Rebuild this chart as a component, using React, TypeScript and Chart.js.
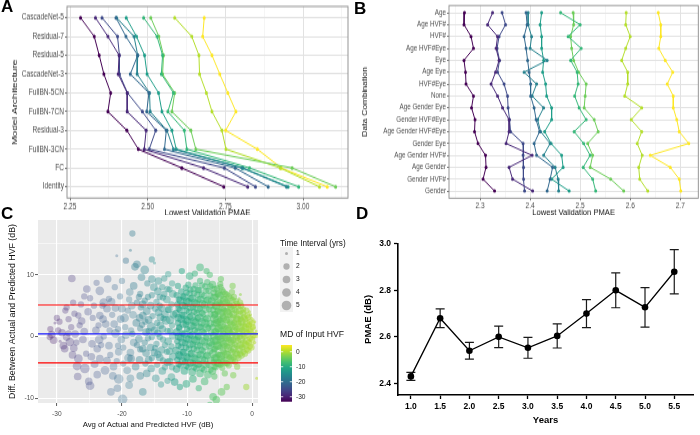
import React, { useEffect, useRef } from "react";
import { Chart, registerables } from "chart.js";

Chart.register(...registerables);

const FONT = "'Liberation Sans', Arial, Helvetica, sans-serif";

// ---------------- Panel A : model architecture ----------------
const archNames = ["CascadeNet-5", "Residual-7", "Residual-5", "CascadeNet-3", "FullBN-5CN", "FullBN-7CN", "Residual-3", "FullBN-3CN", "FC", "Identity"];
const archPMAE: number[][] = [
  [2.284, 2.328, 2.344, 2.359, 2.381, 2.372, 2.433, 2.470, 2.610, 2.745],
  [2.332, 2.372, 2.408, 2.405, 2.434, 2.434, 2.495, 2.489, 2.680, 2.822],
  [2.353, 2.403, 2.409, 2.409, 2.435, 2.483, 2.526, 2.505, 2.747, 2.847],
  [2.398, 2.430, 2.468, 2.444, 2.504, 2.497, 2.560, 2.554, 2.782, 2.888],
  [2.400, 2.456, 2.468, 2.466, 2.506, 2.508, 2.562, 2.583, 2.804, 2.947],
  [2.431, 2.464, 2.490, 2.498, 2.535, 2.546, 2.578, 2.592, 2.807, 2.952],
  [2.487, 2.530, 2.548, 2.544, 2.583, 2.565, 2.618, 2.626, 2.828, 2.986],
  [2.510, 2.536, 2.551, 2.548, 2.587, 2.578, 2.639, 2.655, 2.965, 3.105],
  [2.587, 2.642, 2.665, 2.667, 2.689, 2.707, 2.739, 2.752, 2.927, 3.053],
  [2.682, 2.677, 2.707, 2.732, 2.758, 2.784, 2.751, 2.853, 2.930, 3.078],
];
const archMajor = [2.25, 2.5, 2.75, 3.0];
const archMinor = [2.375, 2.625, 2.875, 3.125];

// ---------------- Panel B : data combination ----------------
const comboNames = ["Age", "Age HVF#", "HVF#", "Age HVF#Eye", "Eye", "Age Eye", "HVF#Eye", "None", "Age Gender Eye", "Gender HVF#Eye", "Age Gender HVF#Eye", "Gender Eye", "Age Gender HVF#", "Age Gender", "Gender HVF#", "Gender"];
const comboPMAE: number[][] = [
  [2.269, 2.268, 2.282, 2.287, 2.268, 2.271, 2.272, 2.287, 2.283, 2.290, 2.289, 2.296, 2.311, 2.312, 2.306, 2.329],
  [2.325, 2.315, 2.335, 2.332, 2.338, 2.331, 2.322, 2.335, 2.345, 2.358, 2.358, 2.352, 2.404, 2.358, 2.365, 2.405],
  [2.344, 2.351, 2.338, 2.334, 2.339, 2.335, 2.348, 2.355, 2.356, 2.359, 2.361, 2.386, 2.386, 2.387, 2.387, 2.389],
  [2.392, 2.394, 2.388, 2.392, 2.395, 2.398, 2.401, 2.401, 2.408, 2.412, 2.419, 2.408, 2.413, 2.445, 2.440, 2.434],
  [2.396, 2.396, 2.403, 2.400, 2.434, 2.388, 2.413, 2.404, 2.427, 2.415, 2.421, 2.440, 2.427, 2.450, 2.456, 2.457],
  [2.423, 2.420, 2.423, 2.423, 2.427, 2.425, 2.431, 2.433, 2.443, 2.443, 2.429, 2.442, 2.463, 2.466, 2.443, 2.478],
  [2.461, 2.500, 2.476, 2.502, 2.481, 2.494, 2.496, 2.489, 2.498, 2.512, 2.488, 2.507, 2.520, 2.506, 2.525, 2.531],
  [2.486, 2.487, 2.481, 2.483, 2.487, 2.497, 2.512, 2.510, 2.508, 2.528, 2.536, 2.515, 2.525, 2.520, 2.561, 2.587],
  [2.592, 2.591, 2.600, 2.591, 2.583, 2.595, 2.595, 2.589, 2.623, 2.602, 2.623, 2.614, 2.624, 2.617, 2.619, 2.635],
  [2.656, 2.661, 2.661, 2.657, 2.670, 2.685, 2.674, 2.686, 2.686, 2.693, 2.698, 2.717, 2.640, 2.680, 2.698, 2.701],
];
const comboMajor = [2.3, 2.4, 2.5, 2.6, 2.7];
const comboMinor = [2.25, 2.35, 2.45, 2.55, 2.65];

const seriesColors = ["#440154", "#482878", "#3E4A89", "#31688E", "#26828E", "#1F9E89", "#35B779", "#6DCD59", "#B4DE2C", "#FDE725"];

// ---------------- Panel C : Bland-Altman cloud [avg, diff, years] ----------------
const cloudPurple: number[][] = [
  [-31.1,-0.1,2],[-30.5,-0.6,3],[-31.0,1.2,2],[-30.3,2.2,1],[-29.2,0.6,3],[-28.7,4.2,2],[-28.5,-0.1,3],[-28.0,-0.9,4],[-27.4,-1.9,3],[-28.5,4.7,2],
  [-27.7,9.4,3],[-26.7,3.4,2],[-26.7,-3.6,4],[-26.9,-4.8,4],[-25.7,-5.2,5],[-27.8,1.5,2],[-27.2,0.4,3],[-26.5,1.8,2],[-29.8,1.0,2],[-28.8,-2.0,3],
  [-27.0,-1.0,2],[-26.0,-0.5,3],[-25.4,7.7,3],[-25.8,6.5,2],[-26.2,2.5,3],[-25.5,-2.8,2],[-29.5,-0.8,1],[-28.2,2.8,2],[-25.2,4.0,3],[-27.5,5.5,2],
  [-30.0,3.0,2],[-29.0,-1.5,3],[-28.2,0.5,2],[-27.6,-3.0,3],[-26.8,-6.5,3],[-26.3,5.2,2],[-25.8,0.8,3],[-27.3,3.7,2],[-29.6,2.4,2],[-30.8,0.3,3],
];
const cloudBlue: number[][] = [
  [-24.9,6.2,2],[-22.8,5.5,4],[-22.0,6.1,2],[-23.4,7.4,4],[-21.1,8.0,2],[-23.4,3.4,3],[-24.9,-8.0,4],[-25.1,-7.3,3],[-23.4,-3.6,3],[-21.3,-4.9,3],
  [-20.5,-6.9,5],[-19.9,-10.2,5],[-20.7,-8.4,3],[-18.9,-7.9,3],[-20.8,13.1,1],[-18.8,7.2,3],[-24.0,1.0,3],[-23.5,-0.5,4],[-22.5,2.0,3],[-22.0,-1.5,3],
  [-21.5,3.5,2],[-21.0,0.5,4],[-20.5,-2.5,3],[-20.0,4.5,3],[-19.5,1.5,2],[-19.0,-3.5,4],[-18.5,5.0,3],[-18.2,-1.0,3],[-24.5,3.0,2],[-23.8,-2.0,3],
  [-22.8,0.0,2],[-22.3,4.5,3],[-21.8,-3.0,2],[-21.2,2.0,3],[-20.3,6.5,2],[-20.1,-0.5,3],[-19.6,3.0,4],[-19.2,-5.5,3],[-18.6,1.0,2],[-18.3,3.5,3],
  [-24.2,-4.5,3],[-23.0,5.0,2],[-22.6,-5.5,4],[-20.8,-4.0,2],[-19.8,-1.8,2],[-18.9,6.0,2],[-23.6,1.8,2],[-21.6,5.6,3],[-20.6,1.2,2],[-18.7,-2.6,3],
  [-24.6,-1.2,3],[-24.3,5.0,2],[-23.8,-6.2,3],[-23.2,-1.4,2],[-22.9,2.8,3],[-22.3,-3.9,3],[-21.9,1.0,2],[-21.4,-6.4,3],[-21.0,4.6,3],[-20.6,-1.5,2],
  [-20.2,2.8,3],[-19.8,-4.4,2],[-19.4,0.2,3],[-19.1,4.2,2],[-18.7,-6.8,3],[-23.9,8.7,2],[-22.2,9.3,3],[-20.0,9.0,2],[-24.7,-3.3,3],[-21.7,-9.0,3],
];
const cloudTeal: number[][] = [
  [-12.3,-5.0,2],[-12.2,-3.3,3],[-12.4,-1.6,2],[-12.2,0.1,3],[-12.3,1.8,2],[-12.1,3.5,3],[-12.4,5.2,2],[-12.2,6.9,3],[-12.3,8.6,2],
  [-13.0,-4.2,3],[-13.1,-2.5,2],[-12.9,-0.8,3],[-13.0,0.9,2],[-13.2,2.6,4],[-12.9,4.3,2],[-13.1,6.0,3],[-13.0,7.7,2],
  [-13.8,-5.6,3],[-13.7,-3.9,2],[-13.9,-2.2,3],[-13.7,-0.5,2],[-13.8,1.2,3],[-13.6,2.9,2],[-13.9,4.6,3],[-13.7,6.3,2],[-13.8,8.0,2],
  [-14.6,-4.6,2],[-14.5,-2.9,3],[-14.7,-1.2,2],[-14.5,0.5,3],[-14.6,2.2,2],[-14.4,3.9,3],[-14.7,5.6,2],[-14.5,7.3,3],
  [-15.5,-5.2,3],[-15.4,-3.5,2],[-15.6,-1.8,3],[-15.4,-0.1,2],[-15.5,1.6,4],[-15.3,3.3,2],[-15.6,5.0,3],[-15.4,6.7,2],
  [-16.4,-4.4,2],[-16.3,-2.7,3],[-16.5,-1.0,2],[-16.3,0.7,3],[-16.4,2.4,2],[-16.2,4.1,3],[-16.5,5.8,2],
  [-17.3,-3.8,3],[-17.2,-2.1,2],[-17.4,-0.4,3],[-17.2,1.3,2],[-17.3,3.0,3],[-17.1,4.7,2],[-17.4,6.4,2],
  [-18.4,16.7,2],[-18.7,14.0,1],[-19.4,12.3,2],[-17.7,11.7,3],[-18.0,11.3,3],[-16.5,10.8,4],[-15.0,11.9,1],[-15.4,12.5,2],
  [-12.9,10.1,2],[-14.4,9.0,3],[-15.4,9.3,3],[-17.2,6.9,2],[-17.2,-6.4,3],[-16.8,-9.0,3],[-13.0,-7.2,2],[-14.8,-6.8,3],
  [-12.7,-4.1,3],[-13.4,-1.4,2],[-14.1,1.8,3],[-15.0,-2.6,3],[-15.9,0.9,2],[-16.8,3.4,3],[-14.2,5.0,2],[-12.6,2.7,4],
];
const cloudTealFill: number[][] = [
  [-12.7,-2.4,3],[-12.6,0.9,2],[-12.8,4.4,3],[-12.7,7.6,2],[-13.4,-5.0,2],[-13.4,3.6,3],[-13.5,6.9,2],[-14.2,-3.4,3],[-14.2,-0.1,2],[-14.1,3.1,3],
  [-14.2,6.4,2],[-14.9,-1.9,2],[-15.0,1.0,3],[-14.9,4.5,2],[-15.1,8.0,3],[-15.9,-3.8,3],[-16.0,-0.3,2],[-15.9,2.7,3],[-16.0,6.4,2],[-16.8,-2.0,3],
  [-16.9,1.9,2],[-16.8,5.2,3],[-17.7,-1.4,2],[-17.8,2.2,3],[-17.7,5.5,2],[-18.2,8.2,3],[-17.9,-4.9,3],[-18.4,0.4,2],[-18.6,-3.6,3],[-16.2,-6.0,3],
  [-14.0,-7.8,2],[-12.4,-6.6,3],[-13.5,9.4,2],[-16.1,8.6,2],[-17.0,9.6,3],
];
const cloudGreen: number[][] = [
  [-6.8,-6.2,3],[-6.7,-4.6,2],[-6.9,-3.1,3],[-6.6,-1.6,2],[-6.8,-0.1,4],[-6.7,1.4,2],[-6.9,2.9,3],[-6.6,4.4,2],[-6.8,5.9,3],[-6.7,7.4,2],[-6.9,8.8,2],
  [-7.4,-5.4,2],[-7.3,-3.9,3],[-7.5,-2.4,2],[-7.3,-0.9,3],[-7.4,0.6,2],[-7.2,2.1,4],[-7.5,3.6,2],[-7.3,5.1,3],[-7.4,6.6,2],[-7.2,8.1,2],
  [-8.0,-6.0,3],[-8.1,-4.5,2],[-7.9,-3.0,3],[-8.0,-1.5,2],[-8.2,0.0,3],[-7.9,1.5,2],[-8.1,3.0,4],[-8.0,4.5,2],[-7.9,6.0,3],[-8.1,7.5,2],[-8.0,9.0,2],
  [-8.6,-5.2,2],[-8.7,-3.7,3],[-8.5,-2.2,2],[-8.6,-0.7,4],[-8.4,0.8,2],[-8.7,2.3,3],[-8.5,3.8,2],[-8.6,5.3,3],[-8.4,6.8,2],[-8.7,8.3,2],
  [-9.2,-5.8,3],[-9.1,-4.3,2],[-9.3,-2.8,3],[-9.1,-1.3,2],[-9.2,0.2,3],[-9.0,1.7,2],[-9.3,3.2,4],[-9.1,4.7,2],[-9.2,6.2,3],[-9.0,7.7,2],
  [-9.8,-5.0,2],[-9.9,-3.5,3],[-9.7,-2.0,2],[-9.8,-0.5,3],[-9.6,1.0,2],[-9.9,2.5,3],[-9.7,4.0,2],[-9.8,5.5,4],[-9.6,7.0,2],[-9.8,8.4,2],
  [-10.4,-5.6,3],[-10.3,-4.1,2],[-10.5,-2.6,3],[-10.3,-1.1,2],[-10.4,0.4,3],[-10.2,1.9,2],[-10.5,3.4,3],[-10.3,4.9,2],[-10.4,6.4,3],[-10.2,7.9,2],
  [-11.0,-4.7,2],[-11.1,-3.2,3],[-10.9,-1.7,2],[-11.0,-0.2,3],[-11.2,1.3,2],[-10.9,2.8,3],[-11.1,4.3,2],[-11.0,5.8,3],[-10.9,7.3,2],
  [-11.6,-5.3,3],[-11.5,-3.8,2],[-11.7,-2.3,3],[-11.5,-0.8,2],[-11.6,0.7,3],[-11.4,2.2,2],[-11.7,3.7,3],[-11.5,5.2,2],[-11.6,6.7,2],[-11.4,8.2,2],
  [-11.9,-7.4,3],[-11.1,-8.2,2],[-10.1,-7.7,3],[-9.1,-6.9,3],[-8.2,-8.4,2],[-7.3,-7.3,3],[-8.0,11.2,3],[-7.0,10.6,2],[-10.8,10.6,2],[-9.6,9.8,3],
  [-6.5,10.0,2],[-8.8,10.2,2],
];
const cloudGreenFill: number[][] = [
  [-6.4,-5.4,2],[-6.35,-3.9,3],[-6.45,-2.4,2],[-6.4,-0.9,4],[-6.3,0.6,2],[-6.45,2.1,3],[-6.4,3.6,2],[-6.35,5.1,3],[-6.45,6.6,2],[-6.4,8.1,2],
  [-7.1,-4.6,3],[-7.05,-3.1,2],[-7.15,-1.6,3],[-7.1,-0.1,2],[-7.0,1.4,4],[-7.15,2.9,2],[-7.1,4.4,3],[-7.05,5.9,2],[-7.1,7.4,2],
  [-7.7,-5.2,2],[-7.65,-3.7,3],[-7.75,-2.2,2],[-7.7,-0.7,3],[-7.6,0.8,2],[-7.75,2.3,4],[-7.7,3.8,2],[-7.65,5.3,3],[-7.75,6.8,2],[-7.7,8.3,2],
  [-8.3,-4.5,3],[-8.25,-3.0,2],[-8.35,-1.5,3],[-8.3,0.0,2],[-8.2,1.5,3],[-8.35,3.0,2],[-8.3,4.5,4],[-8.25,6.0,2],[-8.3,7.5,2],
  [-8.9,-5.0,2],[-8.85,-3.5,3],[-8.95,-2.0,2],[-8.9,-0.5,3],[-8.8,1.0,2],[-8.95,2.5,3],[-8.9,4.0,2],[-8.85,5.5,3],[-8.9,7.0,2],
  [-9.5,-4.3,3],[-9.45,-2.8,2],[-9.55,-1.3,3],[-9.5,0.2,2],[-9.4,1.7,4],[-9.55,3.2,2],[-9.5,4.7,3],[-9.45,6.2,2],[-9.5,7.6,2],
  [-10.1,-4.8,2],[-10.05,-3.3,3],[-10.15,-1.8,2],[-10.1,-0.3,3],[-10.0,1.2,2],[-10.15,2.7,3],[-10.1,4.2,2],[-10.05,5.7,3],[-10.1,7.1,2],
  [-10.7,-4.0,3],[-10.65,-2.5,2],[-10.75,-1.0,3],[-10.7,0.5,2],[-10.6,2.0,3],[-10.75,3.5,2],[-10.7,5.0,3],[-10.65,6.5,2],
  [-11.3,-4.5,2],[-11.25,-3.0,3],[-11.35,-1.5,2],[-11.3,0.0,3],[-11.2,1.5,2],[-11.35,3.0,3],[-11.3,4.5,2],[-11.25,6.0,2],
];
const cloudLime: number[][] = [
  [-6.1,-5.6,3],[-5.9,-4.2,2],[-6.0,-2.8,4],[-6.2,-1.3,2],[-5.9,0.1,3],[-6.1,1.5,2],[-5.8,2.9,4],[-6.0,4.3,2],[-6.2,5.7,3],[-5.9,7.1,2],[-6.1,8.4,3],
  [-5.6,-5.0,2],[-5.5,-3.5,3],[-5.7,-2.0,2],[-5.5,-0.6,4],[-5.6,0.8,2],[-5.4,2.2,3],[-5.7,3.6,2],[-5.5,5.0,4],[-5.6,6.4,2],[-5.4,7.8,2],
  [-5.1,-4.4,3],[-5.0,-3.0,2],[-5.2,-1.5,3],[-5.0,-0.1,2],[-5.1,1.3,4],[-4.9,2.7,2],[-5.2,4.1,3],[-5.0,5.5,2],[-5.1,6.9,3],[-4.9,8.5,2],
  [-4.6,-5.1,2],[-4.7,-3.7,3],[-4.5,-2.3,2],[-4.6,-0.9,3],[-4.4,0.5,2],[-4.7,1.9,4],[-4.5,3.3,2],[-4.6,4.7,3],[-4.4,6.1,2],[-4.6,7.5,2],
  [-4.1,-4.3,2],[-4.0,-2.9,3],[-4.2,-1.5,2],[-4.0,-0.1,4],[-4.1,1.3,2],[-3.9,2.7,3],[-4.2,4.1,2],[-4.0,5.5,3],[-4.1,6.9,2],
  [-3.6,-4.7,2],[-3.5,-3.3,2],[-3.7,-1.9,3],[-3.5,-0.5,2],[-3.6,0.9,3],[-3.4,2.3,2],[-3.7,3.7,4],[-3.5,5.1,2],[-3.6,6.5,2],
  [-3.1,-3.9,3],[-3.0,-2.5,2],[-3.2,-1.1,3],[-3.0,0.3,2],[-3.1,1.7,4],[-2.9,3.1,2],[-3.2,4.5,3],[-3.0,5.9,2],[-3.1,7.2,2],
  [-2.6,-4.1,2],[-2.5,-2.7,3],[-2.7,-1.3,2],[-2.5,0.1,3],[-2.6,1.5,2],[-2.4,2.9,3],[-2.7,4.3,2],[-2.5,5.7,2],
  [-2.1,-3.5,2],[-2.0,-2.1,3],[-2.2,-0.7,2],[-2.0,0.7,3],[-2.1,2.1,2],[-1.9,3.5,3],[-2.2,4.9,2],[-2.0,6.1,1],
  [-1.6,-3.1,2],[-1.5,-1.8,2],[-1.7,-0.4,3],[-1.5,1.0,2],[-1.6,2.4,3],[-1.4,3.8,2],[-1.7,5.0,2],
  [-1.1,-2.8,2],[-1.0,-1.4,3],[-1.2,0.0,2],[-1.0,1.4,3],[-1.1,2.8,2],[-0.9,4.2,2],
  [-0.6,-2.3,2],[-0.5,-1.0,2],[-0.7,0.4,3],[-0.5,1.8,2],[-0.6,3.1,2],[-0.4,4.0,1],
  [-0.1,-1.8,2],[0.0,-0.5,2],[-0.2,0.8,2],[0.0,2.1,2],[-0.1,3.0,1],
  [0.4,-1.0,1],[0.5,0.2,2],[0.3,1.4,1],[0.6,0.9,1],[0.4,2.4,1],
  [-6.0,-9.8,3],[-5.5,-10.3,3],[-6.5,-11.1,2],[-4.7,-9.0,3],[-2.9,-6.3,2],[-2.3,-4.9,2],[0.7,-6.8,1],[-0.9,-8.2,2],[-3.9,-8.2,2],[-4.2,-6.0,2],
  [-5.8,-6.5,2],[-3.0,8.2,2],[-4.8,9.3,2],[-1.8,6.8,1],
];
const cloudLimeFill: number[][] = [
  [-5.8,-4.9,2],[-5.75,-3.5,3],[-5.85,-2.1,2],[-5.8,-0.7,4],[-5.7,0.7,3],[-5.85,2.1,2],[-5.8,3.5,3],[-5.75,4.9,2],[-5.85,6.3,3],[-5.8,7.7,2],
  [-5.3,-4.3,3],[-5.25,-2.9,2],[-5.35,-1.5,4],[-5.3,-0.1,2],[-5.2,1.3,3],[-5.35,2.7,4],[-5.3,4.1,2],[-5.25,5.5,3],[-5.3,6.9,2],
  [-4.85,-4.6,2],[-4.8,-3.2,4],[-4.9,-1.8,2],[-4.85,-0.4,3],[-4.75,1.0,2],[-4.9,2.4,3],[-4.85,3.8,4],[-4.8,5.2,2],[-4.9,6.6,3],[-4.85,8.0,2],
  [-4.35,-4.0,3],[-4.3,-2.6,2],[-4.4,-1.2,3],[-4.35,0.2,4],[-4.25,1.6,2],[-4.4,3.0,3],[-4.35,4.4,2],[-4.3,5.8,4],[-4.4,7.2,2],
  [-3.85,-4.4,2],[-3.8,-3.0,3],[-3.9,-1.6,2],[-3.85,-0.2,3],[-3.75,1.2,4],[-3.9,2.6,2],[-3.85,4.0,3],[-3.8,5.4,2],[-3.9,6.8,2],
  [-3.35,-3.6,3],[-3.3,-2.2,2],[-3.4,-0.8,4],[-3.35,0.6,2],[-3.25,2.0,3],[-3.4,3.4,2],[-3.35,4.8,3],[-3.3,6.2,2],
  [-2.85,-3.4,2],[-2.8,-2.0,3],[-2.9,-0.6,2],[-2.85,0.8,4],[-2.75,2.2,2],[-2.9,3.6,3],[-2.85,5.0,2],[-2.8,6.4,2],
  [-2.35,-3.0,3],[-2.3,-1.6,2],[-2.4,-0.2,3],[-2.35,1.2,2],[-2.25,2.6,4],[-2.4,4.0,2],[-2.35,5.3,2],
  [-1.85,-2.8,2],[-1.8,-1.4,3],[-1.9,0.0,2],[-1.85,1.4,4],[-1.75,2.8,2],[-1.9,4.2,3],[-1.85,5.5,2],
  [-1.35,-2.5,2],[-1.3,-1.1,3],[-1.4,0.3,2],[-1.35,1.7,3],[-1.25,3.1,2],[-1.4,4.4,2],
  [-0.85,-2.1,2],[-0.8,-0.7,3],[-0.9,0.7,2],[-0.85,2.1,3],[-0.75,3.4,2],
  [-0.35,-1.6,2],[-0.3,-0.3,2],[-0.4,1.1,3],[-0.35,2.4,2],[-0.25,3.5,1],
  [0.15,-1.2,1],[0.2,0.2,2],[0.1,1.5,2],[0.15,2.7,1],
];
const cloudBands = [cloudPurple, cloudBlue, cloudTeal, cloudTealFill, cloudGreen, cloudGreenFill, cloudLime, cloudLimeFill];
const bandAlpha = [0.3, 0.3, 0.37, 0.37, 0.47, 0.47, 0.5, 0.5];
const meanDiff = 0.43;
const limitDiffs = [5.1, -4.3];
const timeLevels = [1, 2, 3, 4, 5];
const mdTicks = [0, -10, -20, -30];
const mdRange = [-33.3, 4.5];
const avgMajor = [-30, -20, -10, 0];
const avgMinor = [-25, -15, -5];
const diffMajor = [-10, 0, 10];
const diffMinor = [-5, 5, 15];

// ---------------- Panel D : PMAE vs years ----------------
const years = [1.0, 1.5, 2.0, 2.5, 3.0, 3.5, 4.0, 4.5, 5.0, 5.5];
const yearPMAE = [2.43, 2.68, 2.54, 2.60, 2.553, 2.604, 2.70, 2.80, 2.727, 2.88];
const yearErr = [0.017, 0.04, 0.036, 0.046, 0.045, 0.052, 0.06, 0.075, 0.085, 0.095];
const pmaeTicks = [2.4, 2.6, 2.8, 3.0];

// ---------------- helpers ----------------
const VIR = ["#440154", "#482576", "#414487", "#35608D", "#2A788E", "#21908C", "#22A884", "#43BF71", "#7AD151", "#BBDF27", "#FDE725"];
const hexRgb = (h: string) => [parseInt(h.slice(1, 3), 16), parseInt(h.slice(3, 5), 16), parseInt(h.slice(5, 7), 16)];
function viridis(t: number, a = 1) {
  const tt = Math.max(0, Math.min(1, t)) * 10;
  const i = Math.min(9, Math.floor(tt));
  const f = tt - i;
  const c0 = hexRgb(VIR[i]);
  const c1 = hexRgb(VIR[i + 1]);
  const c = c0.map((v, k) => Math.round(v + (c1[k] - v) * f));
  return `rgba(${c[0]},${c[1]},${c[2]},${a})`;
}
const mdColor = (md: number, a: number) => viridis((md - mdRange[0]) / (mdRange[1] - mdRange[0]), a);
const sizeRadius = (t: number) => 1.5 + 3.3 * Math.sqrt((t - 1) / 4);
const near = (arr: number[], v: number) => arr.some((m) => Math.abs(m - v) < 1e-6);

const borderPlugin = {
  id: "panelBorder",
  afterDatasetsDraw(chart: any) {
    const { ctx, chartArea: a } = chart;
    ctx.save();
    ctx.strokeStyle = "#8a8a8a";
    ctx.lineWidth = 0.9;
    ctx.strokeRect(a.left, a.top, a.right - a.left, a.bottom - a.top);
    ctx.restore();
  },
};

function dotLineConfig(p: any): any {
  const all = [...p.majors, ...p.minors].sort((a: number, b: number) => a - b);
  const isMaj = (c: any) => !!c.tick && near(p.majors, c.tick.value);
  return {
    type: "scatter",
    data: {
      datasets: p.series.map((vals: number[], i: number) => ({
        data: vals.map((v, j) => ({ x: v, y: j })),
        showLine: true,
        borderColor: seriesColors[i],
        backgroundColor: seriesColors[i],
        borderWidth: 1,
        pointRadius: 1.5,
        pointHoverRadius: 1.5,
        pointBorderWidth: 0,
        pointBackgroundColor: seriesColors[i],
      })),
    },
    options: {
      responsive: false,
      animation: false,
      events: [],
      layout: { padding: { top: p.padTop, right: p.padRight, left: 0, bottom: 0 } },
      plugins: { legend: { display: false }, tooltip: { enabled: false } },
      scales: {
        x: {
          type: "linear",
          min: p.xmin,
          max: p.xmax,
          afterBuildTicks: (s: any) => { s.ticks = all.map((v: number) => ({ value: v })); },
          afterFit: (s: any) => { s.height = p.axisH; },
          ticks: {
            autoSkip: false,
            maxRotation: 0,
            padding: 0.5,
            color: "#4D4D4D",
            font: { family: FONT, size: p.tickFont },
            callback: (v: number) => (near(p.majors, v) ? Number(v).toFixed(p.digits) : ""),
          },
          grid: {
            color: (c: any) => (isMaj(c) ? "#E2E2E2" : "#F0F0F0"),
            lineWidth: (c: any) => (isMaj(c) ? 1 : 0.7),
            tickLength: 2,
            tickWidth: 0.8,
            tickColor: (c: any) => (isMaj(c) ? "#555" : "rgba(0,0,0,0)"),
          },
          border: { display: false },
          title: { display: true, text: p.xTitle, color: "#111", font: { family: FONT, size: p.titleFont }, padding: { top: 0, bottom: p.xTitlePadB } },
        },
        y: {
          type: "linear",
          reverse: true,
          min: -0.6,
          max: p.names.length - 0.4,
          afterBuildTicks: (s: any) => { s.ticks = p.names.map((_: string, i: number) => ({ value: i })); },
          afterFit: (s: any) => { s.width = p.axisW; },
          ticks: {
            autoSkip: false,
            padding: 1,
            color: "#4D4D4D",
            font: { family: FONT, size: p.catFont },
            callback: (v: number) => p.names[v] ?? "",
          },
          grid: { color: "#E2E2E2", lineWidth: 1, tickLength: 2, tickWidth: 0.8, tickColor: "#555" },
          border: { display: false },
          title: { display: true, text: p.yTitle, color: "#111", font: { family: FONT, size: p.titleFont }, padding: { top: p.yTitlePad, bottom: 0 } },
        },
      },
    },
    plugins: [borderPlugin],
  };
}

function configA(): any {
  return dotLineConfig({
    names: archNames, series: archPMAE, majors: archMajor, minors: archMinor,
    xmin: 2.2403, xmax: 3.1448, digits: 2,
    xTitle: "Lowest Validation PMAE", yTitle: "Model Architecture",
    axisW: 67, axisH: 13.7, padTop: 4.15, padRight: 2,
    tickFont: 6.6, catFont: 6.6, titleFont: 7.9, yTitlePad: 10.3, xTitlePadB: -2.6,
  });
}

function configB(): any {
  return dotLineConfig({
    names: comboNames, series: comboPMAE, majors: comboMajor, minors: comboMinor,
    xmin: 2.238, xmax: 2.736, digits: 1,
    xTitle: "Lowest Validation PMAE", yTitle: "Data Combination",
    axisW: 99, axisH: 15.7, padTop: 4.87, padRight: 1.7,
    tickFont: 6.6, catFont: 6.3, titleFont: 7.6, yTitlePad: 10.4, xTitlePadB: -1.2,
  });
}

function configC(): any {
  const xAll = [...avgMajor, ...avgMinor].sort((a, b) => a - b);
  const yAll = [...diffMajor, ...diffMinor].sort((a, b) => a - b);
  const bgPlugin = {
    id: "panelBg",
    beforeDraw(chart: any) {
      const { ctx, chartArea: a } = chart;
      ctx.save();
      ctx.fillStyle = "#EBEBEB";
      ctx.fillRect(a.left, a.top, a.right - a.left, a.bottom - a.top);
      ctx.restore();
    },
  };
  const linesPlugin = {
    id: "baLines",
    afterDatasetsDraw(chart: any) {
      const { ctx, chartArea: a, scales } = chart;
      const draw = (v: number, col: string) => {
        const y = scales.y.getPixelForValue(v);
        ctx.beginPath();
        ctx.moveTo(a.left, y);
        ctx.lineTo(a.right, y);
        ctx.strokeStyle = col;
        ctx.lineWidth = 1.2;
        ctx.stroke();
      };
      ctx.save();
      limitDiffs.forEach((v) => draw(v, "#FF0000"));
      draw(meanDiff, "#1A1AFF");
      ctx.restore();
    },
  };
  const legendPlugin = {
    id: "cLegend",
    afterDraw(chart: any) {
      const { ctx } = chart;
      ctx.save();
      ctx.textBaseline = "middle";
      ctx.textAlign = "left";
      ctx.fillStyle = "#111";
      ctx.font = `8.2px ${FONT}`;
      ctx.fillText("Time Interval (yrs)", 280, 28.5);
      const keyTop = 32;
      const keyH = 13;
      timeLevels.forEach((t, i) => {
        const cy = keyTop + keyH * i + keyH / 2;
        ctx.fillStyle = "#F2F2F2";
        ctx.fillRect(280, keyTop + keyH * i, 13, keyH);
        ctx.beginPath();
        ctx.arc(286.5, cy, Math.min(5.2, sizeRadius(t)), 0, Math.PI * 2);
        ctx.fillStyle = "rgba(110,110,110,0.5)";
        ctx.fill();
        ctx.fillStyle = "#222";
        ctx.font = `6.6px ${FONT}`;
        ctx.fillText(String(t), 296, cy);
      });
      ctx.fillStyle = "#111";
      ctx.font = `8.6px ${FONT}`;
      ctx.fillText("MD of Input HVF", 280, 120);
      const bx = 281, bw = 11, bt = 130, bh = 56.7;
      const g = ctx.createLinearGradient(0, bt + bh, 0, bt);
      VIR.forEach((c, i) => g.addColorStop(i / 10, c));
      ctx.fillStyle = g;
      ctx.fillRect(bx, bt, bw, bh);
      mdTicks.forEach((v) => {
        const y = bt + ((mdRange[1] - v) / (mdRange[1] - mdRange[0])) * bh;
        ctx.strokeStyle = "#fff";
        ctx.lineWidth = 0.8;
        ctx.beginPath();
        ctx.moveTo(bx, y); ctx.lineTo(bx + 2.2, y);
        ctx.moveTo(bx + bw - 2.2, y); ctx.lineTo(bx + bw, y);
        ctx.stroke();
        ctx.fillStyle = "#222";
        ctx.font = `6.6px ${FONT}`;
        ctx.fillText(String(v), 296, y);
      });
      ctx.restore();
    },
  };
  const isMajX = (c: any) => !!c.tick && near(avgMajor, c.tick.value);
  const isMajY = (c: any) => !!c.tick && near(diffMajor, c.tick.value);
  return {
    type: "scatter",
    data: {
      datasets: cloudBands.map((b, bi) => ({
        data: b.map((p) => ({ x: p[0], y: p[1], t: p[2] })),
        pointRadius: (c: any) => sizeRadius(c.raw ? c.raw.t : 1),
        pointHoverRadius: (c: any) => sizeRadius(c.raw ? c.raw.t : 1),
        pointBackgroundColor: (c: any) => mdColor(c.raw ? c.raw.x : -10, bandAlpha[bi]),
        pointBorderWidth: 0,
      })),
    },
    options: {
      responsive: false,
      animation: false,
      events: [],
      layout: { padding: { top: 4, right: 92, left: 0, bottom: 0 } },
      plugins: { legend: { display: false }, tooltip: { enabled: false } },
      scales: {
        x: {
          type: "linear", min: -32.9, max: 0.9,
          afterBuildTicks: (s: any) => { s.ticks = xAll.map((v) => ({ value: v })); },
          afterFit: (s: any) => { s.height = 32; },
          ticks: { autoSkip: false, maxRotation: 0, padding: 4, color: "#4D4D4D", font: { family: FONT, size: 6.6 }, callback: (v: number) => (near(avgMajor, v) ? String(v) : "") },
          grid: { color: "#FFFFFF", lineWidth: (c: any) => (isMajX(c) ? 1.1 : 0.55), tickLength: 3, tickWidth: 0.8, tickColor: (c: any) => (isMajX(c) ? "#333" : "rgba(0,0,0,0)") },
          border: { display: false },
          title: { display: true, text: "Avg of Actual and Predicted HVF (dB)", color: "#111", font: { family: FONT, size: 7.8 }, padding: { top: 0, bottom: 5.3 } },
        },
        y: {
          type: "linear", min: -10.8, max: 18.9,
          afterBuildTicks: (s: any) => { s.ticks = yAll.map((v) => ({ value: v })); },
          afterFit: (s: any) => { s.width = 38; },
          ticks: { autoSkip: false, padding: 1, color: "#4D4D4D", font: { family: FONT, size: 6.6 }, callback: (v: number) => (near(diffMajor, v) ? String(v) : "") },
          grid: { color: "#FFFFFF", lineWidth: (c: any) => (isMajY(c) ? 1.1 : 0.55), tickLength: 3, tickWidth: 0.8, tickColor: (c: any) => (isMajY(c) ? "#333" : "rgba(0,0,0,0)") },
          border: { display: false },
          title: { display: true, text: "Diff. Between Actual and Predicted HVF (dB)", color: "#111", font: { family: FONT, size: 8.8 }, padding: { top: 7.7, bottom: 0 } },
        },
      },
    },
    plugins: [bgPlugin, linesPlugin, legendPlugin],
  };
}

function configD(): any {
  const errPlugin = {
    id: "errBars",
    beforeDatasetsDraw(chart: any) {
      const { ctx, scales } = chart;
      ctx.save();
      ctx.strokeStyle = "#1a1a1a";
      ctx.lineWidth = 1.2;
      years.forEach((yr, i) => {
        const px = scales.x.getPixelForValue(yr);
        const top = scales.y.getPixelForValue(yearPMAE[i] + yearErr[i]);
        const bot = scales.y.getPixelForValue(yearPMAE[i] - yearErr[i]);
        ctx.beginPath();
        ctx.moveTo(px, top); ctx.lineTo(px, bot);
        ctx.moveTo(px - 4.5, top); ctx.lineTo(px + 4.5, top);
        ctx.moveTo(px - 4.5, bot); ctx.lineTo(px + 4.5, bot);
        ctx.stroke();
      });
      ctx.restore();
    },
  };
  const bold = (size: number) => ({ family: FONT, size, weight: "bold" as const });
  return {
    type: "scatter",
    data: {
      datasets: [{
        data: years.map((x, i) => ({ x, y: yearPMAE[i] })),
        showLine: true,
        borderColor: "#000",
        borderWidth: 1.3,
        pointRadius: 3.3,
        pointHoverRadius: 3.3,
        pointBackgroundColor: "#000",
        pointBorderWidth: 0,
      }],
    },
    options: {
      responsive: false,
      animation: false,
      events: [],
      layout: { padding: { top: 28.8, right: 7, left: 0, bottom: 0 } },
      plugins: { legend: { display: false }, tooltip: { enabled: false } },
      scales: {
        x: {
          type: "linear", min: 0.78, max: 5.82,
          afterBuildTicks: (s: any) => { s.ticks = years.map((v) => ({ value: v })); },
          afterFit: (s: any) => { s.height = 40; },
          ticks: { autoSkip: false, maxRotation: 0, padding: 3, color: "#000", font: bold(8.5), callback: (v: number) => Number(v).toFixed(1) },
          grid: { drawOnChartArea: false, drawTicks: true, tickLength: 4, tickWidth: 1.3, tickColor: "#000" },
          border: { display: true, color: "#000", width: 1.6 },
          title: { display: true, text: "Years", color: "#000", font: bold(9.5), padding: { top: 0, bottom: 9.3 } },
        },
        y: {
          type: "linear", min: 2.35, max: 3.0,
          afterBuildTicks: (s: any) => { s.ticks = pmaeTicks.map((v) => ({ value: v })); },
          afterFit: (s: any) => { s.width = 48; },
          ticks: { autoSkip: false, padding: 3, color: "#000", font: bold(8.5), callback: (v: number) => Number(v).toFixed(1) },
          grid: { drawOnChartArea: false, drawTicks: true, tickLength: 4, tickWidth: 1.3, tickColor: "#000" },
          border: { display: true, color: "#000", width: 1.6 },
          title: { display: true, text: "PMAE (dB)", color: "#000", font: bold(9.5), padding: { top: 12.3, bottom: 0 } },
        },
      },
    },
    plugins: [errPlugin],
  };
}

const letterStyle = (left: number, top: number): React.CSSProperties => ({
  position: "absolute", left, top, fontFamily: FONT, fontWeight: "bold", fontSize: 17, lineHeight: "17px", color: "#000",
});

export default function App() {
  const aRef = useRef<HTMLCanvasElement>(null);
  const bRef = useRef<HTMLCanvasElement>(null);
  const cRef = useRef<HTMLCanvasElement>(null);
  const dRef = useRef<HTMLCanvasElement>(null);

  useEffect(() => {
    const charts: Chart[] = [];
    if (aRef.current) charts.push(new Chart(aRef.current, configA()));
    if (bRef.current) charts.push(new Chart(bRef.current, configB()));
    if (cRef.current) charts.push(new Chart(cRef.current, configC()));
    if (dRef.current) charts.push(new Chart(dRef.current, configD()));
    return () => charts.forEach((c) => c.destroy());
  }, []);

  return (
    <div style={{ position: "fixed", left: 0, top: 0, width: 700, height: 435, background: "#fff", overflow: "hidden" }}>
      <div style={{ position: "absolute", left: 0, top: 0, width: 350, height: 166, transform: "scaleY(1.3)", transformOrigin: "0 0" }}>
        <canvas ref={aRef} width={350} height={166} style={{ display: "block", width: 350, height: 166 }} />
      </div>
      <div style={{ position: "absolute", left: 350, top: 0, width: 350, height: 188, transform: "scaleY(1.15)", transformOrigin: "0 0" }}>
        <canvas ref={bRef} width={350} height={188} style={{ display: "block", width: 350, height: 188 }} />
      </div>
      <canvas ref={cRef} width={350} height={220} style={{ position: "absolute", left: 0, top: 215, width: 350, height: 220, background: "#fff" }} />
      <canvas ref={dRef} width={350} height={220} style={{ position: "absolute", left: 350, top: 215, width: 350, height: 220, background: "#fff" }} />
      <div style={letterStyle(1, -2)}>A</div>
      <div style={letterStyle(354, -0.5)}>B</div>
      <div style={letterStyle(1, 205)}>C</div>
      <div style={letterStyle(356, 205)}>D</div>
    </div>
  );
}
